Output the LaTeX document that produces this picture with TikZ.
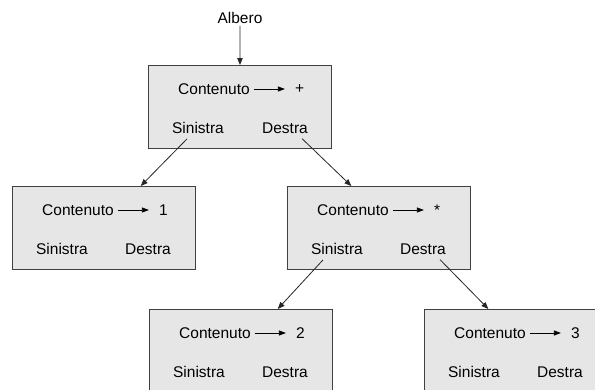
\documentclass[tikz,border=0pt]{standalone}
\usepackage{fontspec}
\setmainfont{Liberation Sans}
\usepackage{xcolor}
\usetikzlibrary{positioning,arrows.meta,calc}
\definecolor{boxfill}{HTML}{E6E6E6}
\definecolor{boxline}{HTML}{404040}

\begin{document}
\begin{tikzpicture}[
  x=1pt, y=-1pt,
  font=\fontsize{15.5}{18}\selectfont,
  line/.style={-{Triangle[length=7pt,width=5.5pt]}, line width=0.8pt, draw=black!85},
  ptr/.style={-{Triangle[length=7pt,width=5pt]}, line width=0.8pt, draw=black},
  cell/.style={draw=boxline, fill=boxfill, line width=0.9pt, minimum width=183pt, minimum height=83pt, inner sep=0pt, anchor=north west},
  txt/.style={inner sep=2pt}
]
\useasboundingbox (0,0) rectangle (595,389);

% Boxes
\node[cell] (root) at (148,65) {};
\node[cell] (lft) at (12,186) {};
\node[cell] (mid) at (287,186) {};
\node[cell] (bl) at (149,309) {};
\node[cell] (br) at (424,309) {};

\node[txt] (albero) at (240,18) {Albero};

% Root contents
\node[txt, anchor=west] (root-c) at ([xshift=28pt,yshift=-24pt]root.north west) {Contenuto};
\node[txt, right=41pt of root-c] (root-v) {+};
\node[txt] (root-s) at ([xshift=50pt,yshift=-63pt]root.north west) {Sinistra};
\node[txt] (root-d) at ([xshift=137pt,yshift=-63pt]root.north west) {Destra};

% Left child
\node[txt, anchor=west] (lft-c) at ([xshift=28pt,yshift=-24pt]lft.north west) {Contenuto};
\node[txt, right=41pt of lft-c] (lft-v) {1};
\node[txt] (lft-s) at ([xshift=50pt,yshift=-63pt]lft.north west) {Sinistra};
\node[txt] (lft-d) at ([xshift=136pt,yshift=-63pt]lft.north west) {Destra};

% Middle child
\node[txt, anchor=west] (mid-c) at ([xshift=28pt,yshift=-24pt]mid.north west) {Contenuto};
\node[txt, right=41pt of mid-c] (mid-v) {*};
\node[txt] (mid-s) at ([xshift=50pt,yshift=-63pt]mid.north west) {Sinistra};
\node[txt] (mid-d) at ([xshift=136pt,yshift=-63pt]mid.north west) {Destra};

% Bottom left
\node[txt, anchor=west] (bl-c) at ([xshift=28pt,yshift=-24pt]bl.north west) {Contenuto};
\node[txt, right=41pt of bl-c] (bl-v) {2};
\node[txt] (bl-s) at ([xshift=50pt,yshift=-63pt]bl.north west) {Sinistra};
\node[txt] (bl-d) at ([xshift=136pt,yshift=-63pt]bl.north west) {Destra};

% Bottom right
\node[txt, anchor=west] (br-c) at ([xshift=28pt,yshift=-24pt]br.north west) {Contenuto};
\node[txt, right=41pt of br-c] (br-v) {3};
\node[txt] (br-s) at ([xshift=50pt,yshift=-63pt]br.north west) {Sinistra};
\node[txt] (br-d) at ([xshift=136pt,yshift=-63pt]br.north west) {Destra};

% Content pointers
\draw[ptr] ([xshift=2pt]root-c.east) -- ([xshift=-8pt]root-v.west);
\draw[ptr] ([xshift=2pt]lft-c.east) -- ([xshift=-8pt]lft-v.west);
\draw[ptr] ([xshift=2pt]mid-c.east) -- ([xshift=-8pt]mid-v.west);
\draw[ptr] ([xshift=2pt]bl-c.east) -- ([xshift=-8pt]bl-v.west);
\draw[ptr] ([xshift=2pt]br-c.east) -- ([xshift=-8pt]br-v.west);

% Tree links
\draw[line] (albero) -- (root);
\draw[line] ([xshift=-11pt,yshift=-3pt]root-s.south) -- ($(lft.north west)!0.70!(lft.north east)$);
\draw[line] ([xshift=17pt,yshift=-3pt]root-d.south) -- ($(mid.north west)!0.35!(mid.north east)$);
\draw[line] ([xshift=-14pt,yshift=-3pt]mid-s.south) -- ($(bl.north west)!0.70!(bl.north east)$);
\draw[line] ([xshift=17pt,yshift=-3pt]mid-d.south) -- ($(br.north west)!0.35!(br.north east)$);
\end{tikzpicture}
\end{document}
